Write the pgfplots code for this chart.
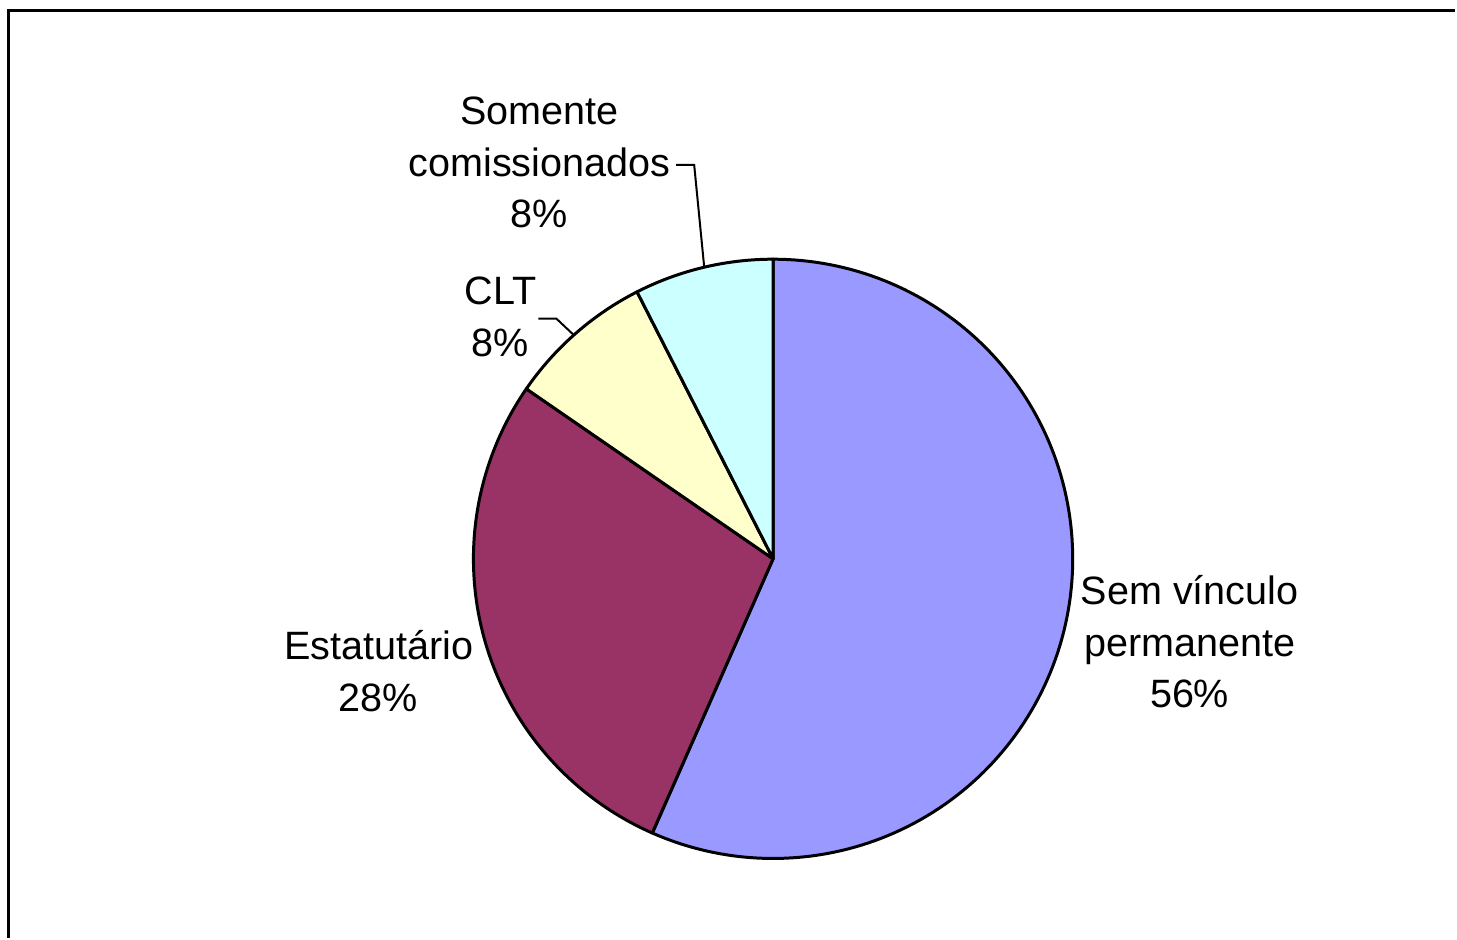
\documentclass[border=0pt]{standalone}
\usepackage{pgfplots}
\pgfplotsset{compat=1.18}
\usepackage{pgfplotstable}
\usepackage{fontspec}
\setmainfont{Liberation Sans}
\definecolor{semv}{HTML}{9999FF}
\definecolor{estat}{HTML}{993366}
\definecolor{clt}{HTML}{FFFFCC}
\definecolor{comis}{HTML}{CCFFFF}
\pgfplotstableread{
share
56.6
28.0
7.9
7.5
}\pietable
\pgfplotstablegetelem{0}{share}\of\pietable \let\vA\pgfplotsretval
\pgfplotstablegetelem{1}{share}\of\pietable \let\vB\pgfplotsretval
\pgfplotstablegetelem{2}{share}\of\pietable \let\vC\pgfplotsretval
\pgfplotstablegetelem{3}{share}\of\pietable \let\vD\pgfplotsretval
\pgfmathsetmacro\aA{90-3.6*\vA}
\pgfmathsetmacro\aB{\aA-3.6*\vB}
\pgfmathsetmacro\aC{\aB-3.6*\vC}
\pgfmathsetmacro\aD{\aC-3.6*\vD}
\begin{document}%
\begin{tikzpicture}
\begin{axis}[hide axis, x=0.5bp, y=0.5bp, xmin=0, xmax=1457, ymin=0, ymax=939,
  clip=false, every axis plot/.append style={line join=round}]
\path (rel axis cs:0,0) rectangle (rel axis cs:1,1);
\addplot[fill=semv, draw=black, line width=1.5bp, domain=\aA:90, samples=150, variable=\t]
  ({774+300*cos(t)},{379.5+300*sin(t)}) -- (axis cs:774,379.5) -- cycle;
\addplot[fill=estat, draw=black, line width=1.5bp, domain=\aB:\aA, samples=100, variable=\t]
  ({774+300*cos(t)},{379.5+300*sin(t)}) -- (axis cs:774,379.5) -- cycle;
\addplot[fill=clt, draw=black, line width=1.5bp, domain=\aC:\aB, samples=40, variable=\t]
  ({774+300*cos(t)},{379.5+300*sin(t)}) -- (axis cs:774,379.5) -- cycle;
\addplot[fill=comis, draw=black, line width=1.5bp, domain=\aD:\aC, samples=40, variable=\t]
  ({774+300*cos(t)},{379.5+300*sin(t)}) -- (axis cs:774,379.5) -- cycle;
% leader lines
\draw[line width=1bp] (axis cs:677,774) -- (axis cs:695,774) -- (axis cs:705,672);
\draw[line width=1bp] (axis cs:539,620) -- (axis cs:557,620) -- (axis cs:574,604);
% frame
\draw[line width=1.75bp] (axis cs:8.7,0) -- (axis cs:8.7,928.7) -- (axis cs:1457,928.7);
% labels
\tikzset{lbl/.style={anchor=base, inner sep=0pt, font=\fontsize{19.8bp}{24bp}\selectfont}}
\node[lbl] at (axis cs:540,814) {Somente};
\node[lbl] at (axis cs:540,762) {comissionados};
\node[lbl] at (axis cs:540,711) {8\%};
\node[lbl] at (axis cs:501,634) {CLT};
\node[lbl] at (axis cs:501,582) {8\%};
\node[lbl] at (axis cs:1191,334) {Sem vínculo};
\node[lbl] at (axis cs:1191,282) {permanente};
\node[lbl] at (axis cs:1191,231) {56\%};
\node[lbl] at (axis cs:379,279) {Estatutário};
\node[lbl] at (axis cs:379,227) {28\%};
\end{axis}
\end{tikzpicture}%
\end{document}
